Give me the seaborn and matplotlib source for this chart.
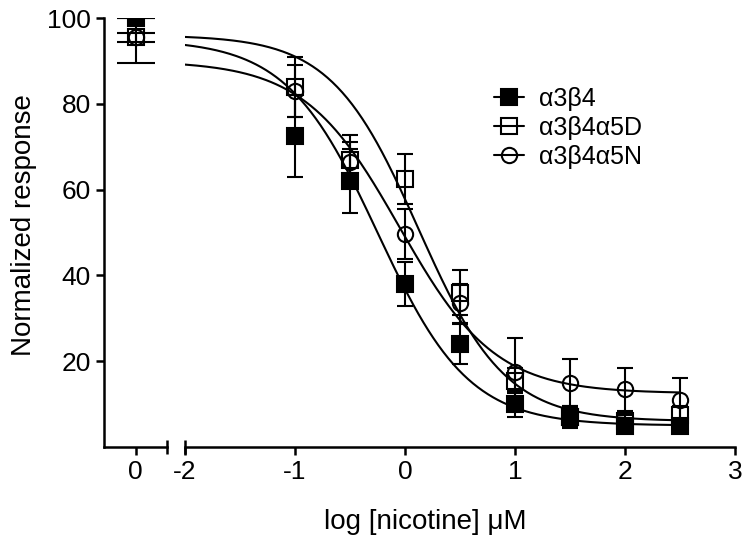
import numpy as np
import pandas as pd
import matplotlib.pyplot as plt
import seaborn as sns
from matplotlib.lines import Line2D

# log [nicotine] positions of the dose points
LOG_CONC = [-1, -0.5, 0, 0.5, 1, 1.5, 2, 2.5]

# mean +/- SEM
A3B4_MEAN = [72.5, 62, 38, 24, 10, 7, 5, 5]
A3B4_SEM = [9.5, 7.5, 5.2, 4.7, 3, 2, 1.5, 1.5]
A5D_MEAN = [84, 67, 62.5, 36, 15.5, 7, 6, 7.5]
A5D_SEM = [7, 5.7, 5.8, 5.2, 3, 2.5, 1.5, 2]
A5N_MEAN = [83, 66.5, 49.6, 33.5, 17.5, 15, 13.5, 11]
A5N_SEM = [6, 4.5, 5.8, 4.5, 8, 5.5, 5, 5]

# control values shown on the separate "0" segment
CONTROL_MEAN = [100, 95.5, 95.5]
CONTROL_SEM = [0, 6, 1]

# fitted curve parameters: top, bottom, logIC50, hill slope
A3B4_FIT = [95, 5, -0.25, 1.05]
A5D_FIT = [96, 6, 0.12, 1.1]
A5N_FIT = [90, 12.5, -0.05, 1.0]

LABELS = ['\u03b13\u03b24', '\u03b13\u03b24\u03b15D', '\u03b13\u03b24\u03b15N']


def hill(x, top, bottom, log_ic50, slope):
    return bottom + (top - bottom) / (1 + 10 ** ((x - log_ic50) * slope))


sns.set_style('ticks')
plt.rcParams['font.family'] = ['Liberation Sans', 'DejaVu Sans']
plt.rcParams['axes.unicode_minus'] = False
plt.rcParams['text.color'] = 'black'
plt.rcParams['xtick.color'] = 'black'
plt.rcParams['ytick.color'] = 'black'

fig = plt.figure(figsize=(7.5, 5.42), dpi=100)
ax0 = fig.add_axes([104 / 750, 95 / 542, 63 / 750, 429 / 542])
ax = fig.add_axes([185 / 750, 95 / 542, 550 / 750, 429 / 542])

styles = [
    dict(fmt='s', mfc='black'),
    dict(fmt='s', mfc='none'),
    dict(fmt='o', mfc='none'),
]
common = dict(mec='black', ms=11, mew=1.5, ecolor='black', elinewidth=1.5,
              capthick=1.5)

# fitted curves
x_fit = np.linspace(-2, 2.5, 300)
for params in [A3B4_FIT, A5D_FIT, A5N_FIT]:
    curve = pd.DataFrame({'x': x_fit, 'y': hill(x_fit, *params)})
    sns.lineplot(data=curve, x='x', y='y', ax=ax, color='black', lw=1.5)

# data points with SEM
for mean, sem, st in zip([A3B4_MEAN, A5D_MEAN, A5N_MEAN],
                         [A3B4_SEM, A5D_SEM, A5N_SEM], styles):
    ax.errorbar(LOG_CONC, mean, yerr=sem, capsize=6, **st, **common)

# control segment
for i, st in enumerate(styles):
    ax0.errorbar([0], [CONTROL_MEAN[i]], yerr=[CONTROL_SEM[i]], capsize=14,
                 **st, **common)

for a in (ax0, ax):
    a.set_ylim(0, 100)
    a.set_xlabel('')
    a.set_ylabel('')
    a.tick_params(width=1.8, length=6, labelsize=19, color='black',
                  labelcolor='black')
    for s in a.spines.values():
        s.set_linewidth(1.8)
        s.set_color('black')

ax0.set_xlim(-1, 1)
ax0.set_xticks([0])
ax0.set_yticks([20, 40, 60, 80, 100])
sns.despine(ax=ax0)

ax.set_xlim(-2, 3)
ax.set_xticks([-2, -1, 0, 1, 2, 3])
ax.set_yticks([])
sns.despine(ax=ax, left=True)

# axis break marks
ax0.plot([1], [0], marker='|', ms=10, mew=1.8, color='black',
         transform=ax0.transAxes, clip_on=False)
ax.plot([0], [0], marker='|', ms=10, mew=1.8, color='black',
        transform=ax.transAxes, clip_on=False)

handles = [
    Line2D([], [], color='black', lw=1.5, marker='s', mfc='black', mec='black', ms=11, mew=1.5),
    Line2D([], [], color='black', lw=1.5, marker='s', mfc='none', mec='black', ms=11, mew=1.5),
    Line2D([], [], color='black', lw=1.5, marker='o', mfc='none', mec='black', ms=11, mew=1.5),
]
ax.legend(handles, LABELS, frameon=False, fontsize=18, loc='center left',
          bbox_to_anchor=(481 / 750, 1 - 128 / 542), bbox_transform=fig.transFigure,
          handlelength=1.2, handletextpad=0.6, labelspacing=0.2, borderpad=0)

fig.text(425 / 750, 1 - 522 / 542, 'log [nicotine] \u03bcM', ha='center', va='center',
         fontsize=20)
fig.text(24 / 750, 1 - 225 / 542, 'Normalized response', ha='center', va='center',
         rotation=90, fontsize=20)

fig.savefig('out.png', dpi=100)
